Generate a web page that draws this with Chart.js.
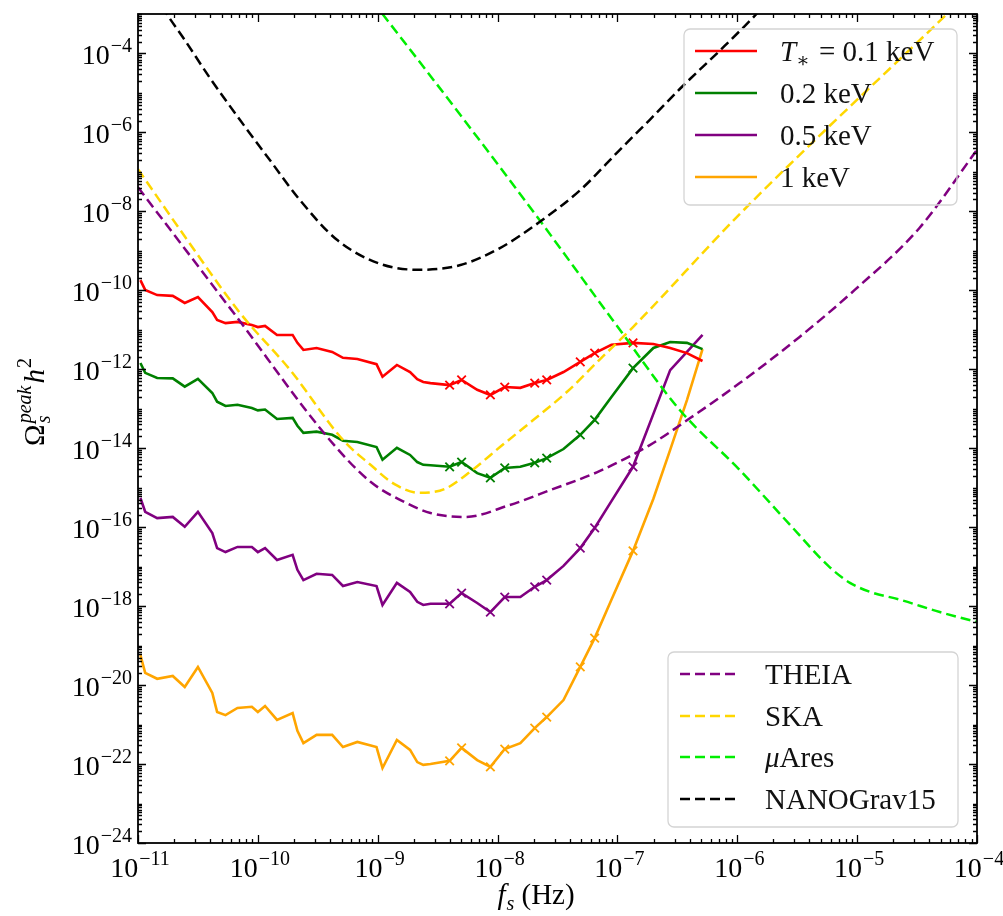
<!DOCTYPE html>
<html>
<head>
<meta charset="utf-8">
<script src="https://cdn.jsdelivr.net/npm/chart.js@4.4.1/dist/chart.umd.min.js"></script>
<style>
  html, body { margin: 0; padding: 0; background: #ffffff; }
  #wrap { width: 1003px; height: 916px; }
</style>
</head>
<body>
<div id="wrap"><canvas id="c" width="1003" height="916"></canvas></div>
<script>
// ---- data (all values are log10) -------------------------------------------
// peak frequency grid of the scans, log10(f / Hz)
const logFreq = [
  -10.98, -10.94, -10.84, -10.71, -10.61, -10.50, -10.38, -10.34, -10.27, -10.17,
  -10.05, -10.00, -9.94, -9.84, -9.71, -9.67, -9.62, -9.51, -9.38, -9.29,
  -9.17, -9.01, -8.96, -8.84, -8.73, -8.67, -8.62, -8.56, -8.40, -8.30,
  -8.17, -8.06, -7.94, -7.81, -7.69, -7.59, -7.45, -7.31, -7.19, -7.05,
  -6.87, -6.70, -6.56, -6.42, -6.29
];
// points of the scans that carry an "x" marker
const markedIdx = [28, 29, 31, 32, 34, 35, 37, 38, 40];

// log10(Omega_s^peak h^2) for each reheating temperature
const logOmegaT01 = [
  -9.74, -9.99, -10.12, -10.14, -10.32, -10.17, -10.55, -10.75, -10.83, -10.80,
  -10.88, -10.93, -10.90, -11.13, -11.13, -11.33, -11.51, -11.46, -11.56, -11.71,
  -11.74, -11.87, -12.19, -11.89, -12.07, -12.25, -12.32, -12.35, -12.40, -12.27,
  -12.52, -12.65, -12.45, -12.47, -12.35, -12.27, -12.07, -11.81, -11.59, -11.38,
  -11.33, -11.36, -11.46, -11.59, -11.79
];
const logOmegaT02 = [
  -11.84, -12.09, -12.22, -12.23, -12.44, -12.24, -12.60, -12.82, -12.93, -12.90,
  -12.98, -13.04, -13.02, -13.26, -13.23, -13.43, -13.61, -13.58, -13.66, -13.81,
  -13.84, -13.97, -14.29, -13.99, -14.17, -14.35, -14.42, -14.43, -14.47, -14.35,
  -14.63, -14.75, -14.50, -14.47, -14.37, -14.25, -14.02, -13.66, -13.28, -12.70,
  -11.97, -11.46, -11.31, -11.33, -11.49
];
const logOmegaT05 = [
  -15.26, -15.61, -15.77, -15.74, -15.99, -15.61, -16.15, -16.53, -16.63, -16.50,
  -16.50, -16.63, -16.53, -16.83, -16.70, -17.08, -17.34, -17.18, -17.21, -17.49,
  -17.39, -17.49, -17.97, -17.41, -17.64, -17.89, -17.97, -17.94, -17.94, -17.67,
  -17.92, -18.15, -17.77, -17.77, -17.51, -17.34, -16.98, -16.53, -16.02, -15.34,
  -14.47, -13.13, -12.02, -11.56, -11.13
];
const logOmegaT1 = [
  -19.24, -19.69, -19.84, -19.77, -20.05, -19.54, -20.20, -20.68, -20.76, -20.58,
  -20.55, -20.68, -20.53, -20.88, -20.71, -21.16, -21.47, -21.26, -21.26, -21.57,
  -21.44, -21.57, -22.10, -21.39, -21.64, -21.95, -22.02, -22.00, -21.92, -21.59,
  -21.90, -22.07, -21.62, -21.47, -21.09, -20.81, -20.38, -19.54, -18.81, -17.84,
  -16.60, -15.28, -14.04, -12.78, -11.49
];

// detector sensitivity curves: [log10 f, log10 Omega h^2]
const theiaCurve = [
  [-11.00, -7.39], [-10.19, -10.62], [-9.40, -13.79], [-9.06, -14.85], [-8.76, -15.39],
  [-8.56, -15.64], [-8.27, -15.74], [-7.90, -15.44], [-7.56, -15.06], [-7.15, -14.58],
  [-6.73, -13.92], [-6.39, -13.23], [-5.98, -12.35], [-5.48, -11.18], [-5.02, -9.99],
  [-4.48, -8.42], [-4.00, -6.44]
];
const skaCurve = [
  [-11.00, -6.93], [-10.59, -8.72], [-10.15, -10.57], [-9.73, -12.02], [-9.29, -13.79],
  [-9.06, -14.42], [-8.86, -14.91], [-8.65, -15.13], [-8.44, -15.03], [-8.21, -14.55],
  [-7.98, -13.97], [-7.70, -13.28], [-7.42, -12.57], [-7.15, -11.76], [-6.87, -10.93],
  [-5.98, -8.07], [-4.25, -3.00], [-4.00, -2.27]
];
const muAresCurve = [
  [-9.04, -2.69], [-8.96, -3.00], [-8.31, -5.56], [-7.65, -8.22], [-6.98, -11.00],
  [-6.48, -13.03], [-5.98, -14.55], [-5.56, -15.94], [-5.23, -17.01], [-5.06, -17.41],
  [-4.89, -17.64], [-4.64, -17.84], [-4.31, -18.15], [-4.00, -18.40]
];
const nanogravCurve = [
  [-10.80, -2.80], [-10.76, -3.00], [-10.61, -3.66], [-10.40, -4.62], [-10.15, -5.68],
  [-9.90, -6.70], [-9.65, -7.71], [-9.34, -8.72], [-8.98, -9.33], [-8.65, -9.48],
  [-8.31, -9.36], [-7.98, -8.93], [-7.65, -8.27], [-7.31, -7.46], [-6.98, -6.44],
  [-6.73, -5.68], [-6.48, -4.90], [-6.14, -3.91], [-5.84, -3.00], [-5.78, -2.80]
];

// tick label exponents
const xTickExps = [-11, -10, -9, -8, -7, -6, -5, -4];
const yTickExps = [-24, -22, -20, -18, -16, -14, -12, -10, -8, -6, -4];

// ---- helpers ------------------------------------------------------------------
const SERIF = '"Liberation Serif", "Times New Roman", "DejaVu Serif", serif';
const pow10 = v => Math.pow(10, v);
const scanPoints = ly => logFreq.map((lf, i) => ({ x: pow10(lf), y: pow10(ly[i]) }));
const curvePoints = arr => arr.map(([lf, lo]) => ({ x: pow10(lf), y: pow10(lo) }));

function scanDataset(label, color, ly) {
  return {
    label, data: scanPoints(ly),
    borderColor: color, backgroundColor: color,
    borderWidth: 2.6, tension: 0, fill: false,
    pointStyle: 'crossRot',
    pointRadius: ctx => (markedIdx.includes(ctx.dataIndex) ? 6 : 0),
    pointBorderWidth: 1.8, pointBorderColor: color,
    pointHoverRadius: 0, clip: 0
  };
}
function detectorDataset(label, color, arr) {
  return {
    label, data: curvePoints(arr),
    borderColor: color, backgroundColor: color,
    borderWidth: 2.5, borderDash: [10, 5],
    cubicInterpolationMode: 'monotone', fill: false,
    pointRadius: 0, pointHoverRadius: 0, clip: 0
  };
}

const fontOf = p => `${p.it ? 'italic ' : ''}${p.size}px ${SERIF}`;
function layoutRich(ctx, parts) {
  let x = 0, prevStart = 0, prevW = 0;
  const items = [];
  for (const p of parts) {
    ctx.font = fontOf(p);
    const w = ctx.measureText(p.t).width;
    let start;
    if (p.stack) {
      start = prevStart;
      x = Math.max(prevStart + prevW, start + w);
    } else {
      start = x + (p.pre || 0);
      x = start + w;
    }
    items.push({ p, start, w });
    prevStart = start; prevW = w;
  }
  return { items, width: x };
}
function drawRich(ctx, parts, x, y, align) {
  const L = layoutRich(ctx, parts);
  const x0 = align === 'center' ? x - L.width / 2 : align === 'right' ? x - L.width : x;
  ctx.textAlign = 'left';
  ctx.textBaseline = 'alphabetic';
  for (const it of L.items) {
    ctx.font = fontOf(it.p);
    ctx.fillText(it.p.t, x0 + it.start, y + (it.p.dy || 0));
  }
}
const powerParts = e => [
  { t: '10', size: 28 },
  { t: '\u2212' + Math.abs(e), size: 20, dy: -12, pre: 1 }
];

// ---- frame, inward ticks, labels and the two legends ---------------------------------
const decorations = {
  id: 'decorations',
  afterDraw(chart) {
    const { ctx, chartArea: a, scales: { x, y } } = chart;
    ctx.save();
    ctx.strokeStyle = '#000';
    ctx.fillStyle = '#000';

    // inward ticks on all four sides
    ctx.lineWidth = 1.3;
    const xTick = (v, len) => {
      const px = Math.round(x.getPixelForValue(v)) + 0.5;
      ctx.beginPath();
      ctx.moveTo(px, a.bottom); ctx.lineTo(px, a.bottom - len);
      ctx.moveTo(px, a.top); ctx.lineTo(px, a.top + len);
      ctx.stroke();
    };
    const yTick = (v, len) => {
      const py = Math.round(y.getPixelForValue(v)) + 0.5;
      ctx.beginPath();
      ctx.moveTo(a.left, py); ctx.lineTo(a.left + len, py);
      ctx.moveTo(a.right, py); ctx.lineTo(a.right - len, py);
      ctx.stroke();
    };
    for (let e = -11; e <= -4; e++) {
      xTick(pow10(e), 8);
      if (e < -4) for (let k = 2; k <= 9; k++) xTick(k * pow10(e), 4);
    }
    for (let e = -24; e <= -3; e++) {
      yTick(pow10(e), yTickExps.includes(e) ? 8 : 4);
      if (e < -3) for (let k = 2; k <= 9; k++) yTick(k * pow10(e), 4);
    }

    // frame
    ctx.lineWidth = 1.8;
    ctx.strokeRect(a.left, a.top, a.right - a.left, a.bottom - a.top);

    // tick labels
    for (const e of xTickExps) {
      drawRich(ctx, powerParts(e), x.getPixelForValue(pow10(e)) + 2, a.bottom + 34, 'center');
    }
    for (const e of yTickExps) {
      drawRich(ctx, powerParts(e), a.left - 6, y.getPixelForValue(pow10(e)) + 11, 'right');
    }

    // axis titles
    drawRich(ctx, [
      { t: 'f', size: 29, it: true },
      { t: 's', size: 20, it: true, dy: 6, pre: 1 },
      { t: ' (Hz)', size: 29 }
    ], 536, 904, 'center');

    ctx.save();
    ctx.translate(44, 402);
    ctx.rotate(-Math.PI / 2);
    drawRich(ctx, [
      { t: '\u03A9', size: 29 },
      { t: 's', size: 20, it: true, dy: 6, pre: 1 },
      { t: 'peak', size: 20, it: true, dy: -13, stack: true },
      { t: 'h', size: 29, it: true, pre: 2 },
      { t: '2', size: 20, dy: -13, pre: 1 }
    ], 0, 0, 'center');
    ctx.restore();

    // legends
    const ds = chart.data.datasets;
    const byLabel = l => ds.find(d => d.label === l);
    const drawLegend = (box, sx0, sx1, tx, rows) => {
      ctx.save();
      ctx.strokeStyle = '#d4d4d4';
      ctx.lineWidth = 1.3;
      ctx.beginPath();
      ctx.roundRect(box.x0, box.y0, box.x1 - box.x0, box.y1 - box.y0, 6);
      ctx.stroke();
      ctx.restore();
      for (const r of rows) {
        const d = byLabel(r.key);
        ctx.save();
        ctx.strokeStyle = d.borderColor;
        ctx.lineWidth = d.borderWidth;
        ctx.setLineDash(d.borderDash || []);
        ctx.beginPath();
        ctx.moveTo(sx0, r.y); ctx.lineTo(sx1, r.y);
        ctx.stroke();
        ctx.restore();
        ctx.fillStyle = '#111';
        drawRich(ctx, r.parts, tx, r.y + 10, 'left');
      }
    };
    drawLegend({ x0: 684, y0: 29, x1: 957, y1: 205 }, 695, 757, 780, [
      { key: 'T01', y: 51, parts: [
        { t: 'T', size: 29, it: true },
        { t: '\u2217', size: 20, dy: 6 },
        { t: ' = 0.1 keV', size: 29, pre: 2 } ] },
      { key: 'T02', y: 93, parts: [{ t: '0.2 keV', size: 29 }] },
      { key: 'T05', y: 135, parts: [{ t: '0.5 keV', size: 29 }] },
      { key: 'T1', y: 177, parts: [{ t: '1 keV', size: 29 }] }
    ]);
    drawLegend({ x0: 668, y0: 652, x1: 958, y1: 827 }, 680, 740, 765, [
      { key: 'THEIA', y: 674, parts: [{ t: 'THEIA', size: 29 }] },
      { key: 'SKA', y: 716, parts: [{ t: 'SKA', size: 29 }] },
      { key: 'muAres', y: 757, parts: [
        { t: '\u03BC', size: 29, it: true },
        { t: 'Ares', size: 29 } ] },
      { key: 'NANOGrav15', y: 799, parts: [{ t: 'NANOGrav15', size: 29 }] }
    ]);

    ctx.restore();
  }
};

// ---- chart -------------------------------------------------------------------
// datasets listed top-most first (Chart.js paints the last one underneath)
new Chart(document.getElementById('c'), {
  type: 'line',
  data: {
    datasets: [
      detectorDataset('NANOGrav15', '#000000', nanogravCurve),
      detectorDataset('muAres', '#00ee00', muAresCurve),
      detectorDataset('SKA', '#ffd700', skaCurve),
      detectorDataset('THEIA', '#800080', theiaCurve),
      scanDataset('T01', '#ff0000', logOmegaT01),
      scanDataset('T02', '#008000', logOmegaT02),
      scanDataset('T05', '#800080', logOmegaT05),
      scanDataset('T1', '#ffa500', logOmegaT1)
    ]
  },
  options: {
    responsive: false,
    animation: false,
    events: [],
    layout: { padding: { left: 138, right: 26, top: 14, bottom: 73 } },
    scales: {
      x: { type: 'logarithmic', min: 1e-11, max: 1e-4, display: false },
      y: { type: 'logarithmic', min: 1e-24, max: 1e-3, display: false }
    },
    plugins: { legend: { display: false }, tooltip: { enabled: false } }
  },
  plugins: [decorations]
});
</script>
</body>
</html>
